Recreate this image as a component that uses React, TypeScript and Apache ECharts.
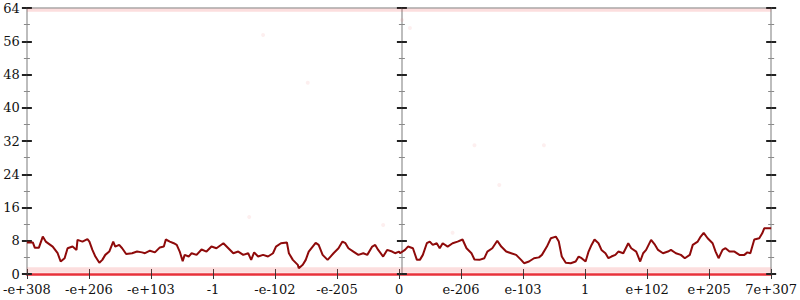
import React, { useEffect, useRef } from "react";
import * as echarts from "echarts";

// x positions are in axis units 0..750 (12 label intervals of 62.5)
const tickLabels = ["-e+308", "-e+206", "-e+103", "-1", "-e-102", "-e-205", "0", "e-206", "e-103", "1", "e+102", "e+205", "7e+307"];

const lineX = [
  0, 6, 8, 12, 16, 19, 26, 31, 34, 38, 41, 46, 50, 51, 56, 61, 63, 66, 69, 73, 76, 79, 83, 87, 89, 93, 96, 100, 106, 111, 116, 119, 124, 129, 134, 138, 140, 144, 148, 151, 154, 157, 159, 163, 166, 171, 176,
  181, 186, 191, 198, 203, 208, 213, 218, 223, 226, 229, 233, 238, 243, 248, 251, 256, 262, 264, 268, 273, 274, 278, 281, 284, 288, 291, 294, 298, 303, 306, 309, 314, 318, 321, 324, 329, 334, 339, 343, 348, 351, 354, 359, 363, 368, 371, 375,
  376, 381, 384, 389, 393, 396, 399, 403, 406, 409, 413, 416, 419, 424, 429, 434, 439, 443, 448, 451, 456, 461, 464, 469, 474, 478, 483, 488, 493, 498, 501, 506, 511, 516, 519, 524, 528, 533, 536, 539, 543, 548, 553, 556, 559, 563, 566, 569, 572, 576,
  579, 583, 586, 589, 593, 596, 601, 606, 609, 614, 618, 621, 624, 629, 633, 636, 641, 646, 649, 654, 659, 663, 668, 671, 676, 679, 682, 686, 691, 694, 697, 701, 704, 708, 713, 718, 723, 726, 729, 733, 738, 741, 743, 750,
];
const lineY = [
  7.6, 7.6, 6.3, 6.3, 9.0, 7.8, 6.6, 5.0, 3.0, 3.8, 6.2, 6.6, 5.8, 8.2, 7.8, 8.4, 7.8, 5.8, 4.2, 2.7, 3.4, 4.6, 5.4, 7.8, 6.6, 7.0, 6.2, 4.8, 5.0, 5.4, 5.2, 5.0, 5.6, 5.2, 6.4, 6.6, 8.3, 7.8, 7.4, 7.0, 5.4, 3.1, 4.6, 4.2, 5.0, 4.6, 5.9,
  5.4, 6.6, 6.2, 7.4, 6.2, 5.0, 5.4, 4.6, 5.0, 3.4, 5.2, 4.2, 4.6, 4.2, 5.0, 6.6, 7.4, 7.6, 5.0, 3.4, 2.2, 1.4, 2.2, 3.4, 5.4, 6.6, 7.5, 7.0, 4.6, 3.4, 4.2, 5.0, 6.2, 7.8, 7.4, 6.2, 5.4, 4.6, 5.0, 4.6, 6.6, 7.0, 5.8, 4.2, 5.8, 5.4, 5.0, 5.4,
  5.0, 5.8, 6.6, 6.2, 3.4, 3.4, 4.6, 7.4, 7.8, 7.0, 7.4, 6.2, 7.4, 6.6, 7.4, 7.8, 8.3, 6.2, 5.0, 3.5, 3.4, 3.8, 5.4, 6.2, 8.0, 6.6, 5.4, 5.0, 4.6, 3.4, 2.6, 3.0, 3.8, 4.0, 4.6, 6.6, 8.6, 9.0, 7.8, 4.2, 2.7, 2.6, 3.0, 4.2, 3.8, 3.0, 5.4, 7.0, 8.3, 7.4,
  5.8, 5.0, 3.8, 4.2, 4.6, 5.4, 5.0, 7.4, 6.2, 5.4, 3.0, 5.0, 5.8, 8.2, 7.0, 5.8, 5.0, 5.4, 5.8, 5.0, 4.6, 3.8, 4.6, 7.0, 7.8, 9.0, 9.9, 8.6, 7.4, 5.4, 3.8, 5.8, 6.2, 5.4, 5.4, 4.6, 4.6, 5.2, 5.0, 8.3, 8.6, 9.8, 11.0, 11.0,
];

const faintX = [378, 386, 224, 359, 429, 238, 283, 521, 451, 476];
const faintY = [61.1, 59.2, 13.7, 11.8, 9.9, 57.5, 46.0, 31.0, 31.0, 21.4];

const yMin = 0;
const yMax = 64;
const yStep = 8;
const xMax = 750;
const xStep = 62.5;

const FONT = "'DejaVu Serif', serif";

function yAxisDef(position: "left" | "right", inside: boolean, offset: number, labels: boolean) {
  return {
    type: "value",
    position,
    offset,
    min: yMin,
    max: yMax,
    interval: yStep,
    axisLine: { show: true, onZero: false, lineStyle: { color: "#bdbdbd", width: 2 } },
    axisTick: { show: true, inside, length: 5, lineStyle: { color: "#222", width: 2 } },
    minorTick: { show: true, splitNumber: 2, length: 3, lineStyle: { color: "#888", width: 1 } },
    splitLine: { show: false },
    minorSplitLine: { show: false },
    axisLabel: labels
      ? { show: true, margin: 7, color: "#111", fontFamily: FONT, fontSize: 13 }
      : { show: false },
  };
}

export default function App() {
  const ref = useRef<HTMLDivElement>(null);
  useEffect(() => {
    document.body.style.margin = "0";
    if (!ref.current) return;
    const chart = echarts.init(ref.current, undefined, { renderer: "svg" });
    const lineData = lineX.map((x, i) => [x, lineY[i]]);
    const faintData = faintX.map((x, i) => [x, faintY[i]]);
    const xBase = {
      type: "value",
      min: 0,
      max: xMax,
      interval: xStep,
      splitLine: { show: false },
    };
    chart.setOption({
      animation: false,
      backgroundColor: "#fff",
      grid: { left: 24, right: 26, top: 8, bottom: 26, containLabel: false },
      xAxis: [
        {
          ...xBase,
          position: "bottom",
          axisLine: { show: true, onZero: false, lineStyle: { color: "#e8313a", width: 2.5 } },
          axisTick: { show: true, inside: false, length: 5, lineStyle: { color: "#333", width: 1 } },
          axisLabel: {
            show: true,
            margin: 9,
            color: "#111",
            fontFamily: FONT,
            fontSize: 13,
            showMinLabel: true,
            showMaxLabel: true,
            formatter: (v: number) => tickLabels[Math.round(v / xStep)] ?? "",
          },
        },
        {
          ...xBase,
          position: "bottom",
          axisLine: { show: false },
          axisTick: { show: true, inside: true, length: 5, lineStyle: { color: "#333", width: 1 } },
          axisLabel: { show: false },
        },
        {
          ...xBase,
          position: "top",
          axisLine: { show: true, onZero: false, lineStyle: { color: "#bdbdbd", width: 2 } },
          axisTick: { show: false },
          axisLabel: { show: false },
        },
      ],
      yAxis: [
        yAxisDef("left", false, 0, true),
        yAxisDef("left", true, 0, false),
        yAxisDef("left", false, -375, false),
        yAxisDef("left", true, -375, false),
        yAxisDef("right", false, 0, false),
        yAxisDef("right", true, 0, false),
      ],
      series: [
        {
          type: "scatter",
          xAxisIndex: 0,
          yAxisIndex: 0,
          data: faintData,
          symbolSize: 4,
          itemStyle: { color: "rgba(240,120,120,0.15)" },
          silent: true,
          markArea: {
            silent: true,
            itemStyle: { color: "rgba(240,90,90,0.2)" },
            data: [
              [{ yAxis: 0.3 }, { yAxis: 1.6 }],
              [{ yAxis: 63.1 }, { yAxis: 63.9 }],
            ],
          },
        },
        {
          type: "line",
          xAxisIndex: 0,
          yAxisIndex: 0,
          data: lineData,
          showSymbol: false,
          symbol: "none",
          lineStyle: { color: "#8e0a0a", width: 2 },
          z: 5,
        },
      ],
    });
    return () => chart.dispose();
  }, []);
  return <div ref={ref} style={{ width: 800, height: 300 }} />;
}
